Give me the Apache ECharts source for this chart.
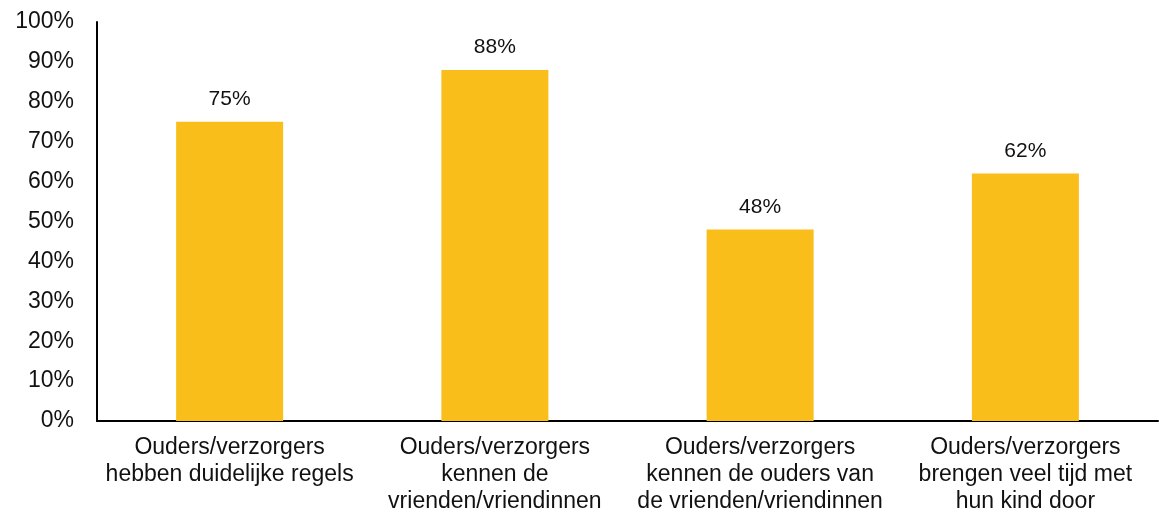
<!DOCTYPE html>
<html><head><meta charset="utf-8">
<script src="https://cdn.jsdelivr.net/npm/echarts@6/dist/echarts.min.js"></script>
<style>html,body{margin:0;padding:0;background:#fff}#c{width:1159px;height:515px}</style>
</head><body><div id="c"></div>
<script>
const categories = [
  "Ouders/verzorgers\nhebben duidelijke regels",
  "Ouders/verzorgers\nkennen de\nvrienden/vriendinnen",
  "Ouders/verzorgers\nkennen de ouders van\nde vrienden/vriendinnen",
  "Ouders/verzorgers\nbrengen veel tijd met\nhun kind door"
];
const values = [75, 88, 48, 62];
const chart = echarts.init(document.getElementById('c'));
chart.setOption({
  animation: false,
  grid: {left: 97, right: 1, top: 22, bottom: 94, containLabel: false, outerBoundsMode: 'none'},
  xAxis: {
    type: 'category', data: categories,
    axisLine: {lineStyle: {color: '#000', width: 2}},
    axisTick: {show: false},
    axisLabel: {color: '#111', fontFamily: 'Liberation Sans, Arial', fontSize: 23, lineHeight: 27, margin: 13, interval: 0}
  },
  yAxis: {
    type: 'value', min: 0, max: 100, interval: 10,
    axisLine: {show: true, lineStyle: {color: '#000', width: 2}},
    axisTick: {show: false},
    splitLine: {show: false},
    axisLabel: {formatter: '{value}%', color: '#111', fontFamily: 'Liberation Sans, Arial', fontSize: 23, margin: 23}
  },
  series: [{
    type: 'bar', data: values, barWidth: 107,
    itemStyle: {color: '#F9BE1A'},
    label: {show: true, position: 'top', formatter: '{c}%', color: '#111', fontFamily: 'Liberation Sans, Arial', fontSize: 21, distance: 12}
  }]
});
</script></body></html>
